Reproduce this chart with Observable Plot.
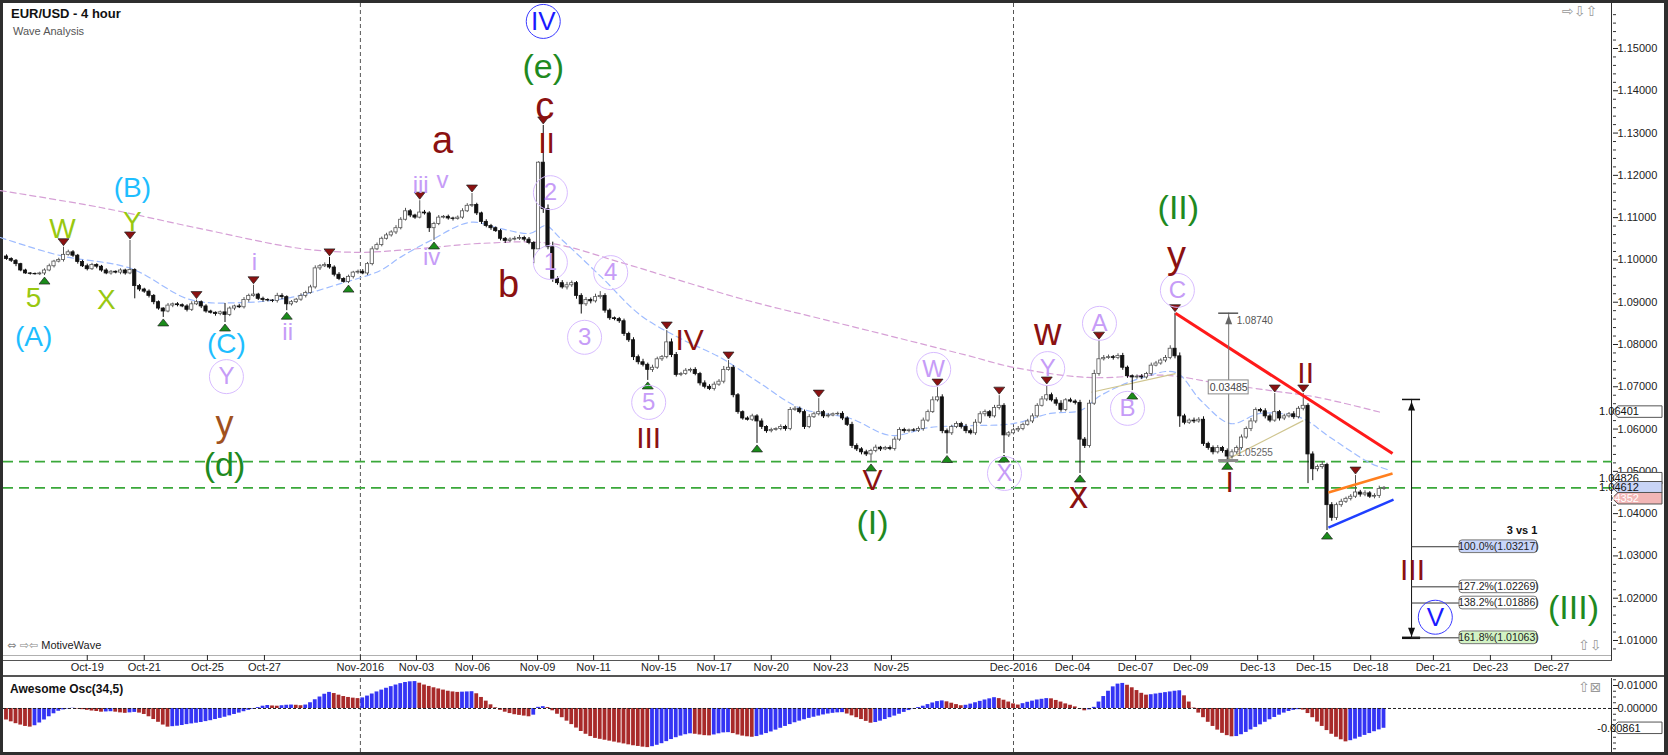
<!DOCTYPE html>
<html><head><meta charset="utf-8">
<script src="https://cdn.jsdelivr.net/npm/d3@7"></script>
<script src="https://cdn.jsdelivr.net/npm/@observablehq/plot@0.6"></script>
<style>
body{margin:0;background:#fff;}
#root{position:relative;width:1668px;height:755px;background:#2e2e2e;overflow:hidden;font-family:"Liberation Sans",Arial,sans-serif;}
.abs{position:absolute;}
</style></head>
<body>
<div id="root">
  <div class="abs" style="left:3px;top:3px;width:1661px;height:749px;background:#fff;"></div>
  <div class="abs" style="left:3px;top:655px;width:1609px;height:1px;background:#b0b0b0;"></div>
  <div class="abs" style="left:3px;top:660px;width:1609px;height:1px;background:#555;"></div>
  <div class="abs" style="left:3px;top:675px;width:1661px;height:2px;background:#555;"></div>
  <div class="abs" style="left:1611px;top:3px;width:1px;height:657px;background:#333;"></div>
  <div class="abs" style="left:1611px;top:678px;width:1px;height:74px;background:#333;"></div>
  <div id="main" class="abs" style="left:0;top:0;"></div>
  <div id="osc" class="abs" style="left:0;top:676px;"></div>
  <div class="abs" style="left:11px;top:6px;font-weight:bold;font-size:13px;color:#111;">EUR/USD - 4 hour</div>
  <div class="abs" style="left:13px;top:25px;font-size:11px;color:#555;">Wave Analysis</div>
  <div class="abs" style="left:7px;top:639px;font-size:11px;color:#222;"><span style="font-family:'DejaVu Sans';color:#888;">⇔ ⇨⇦</span> MotiveWave</div>
  <div class="abs" style="left:10px;top:682px;font-weight:bold;font-size:12px;color:#111;">Awesome Osc(34,5)</div>
  <div class="abs" style="left:1562px;top:3px;font-size:14px;color:#999;font-family:'DejaVu Sans';">⇨⇩⇧</div>
  <div class="abs" style="left:1578px;top:637px;font-size:14px;color:#999;font-family:'DejaVu Sans';">⇧⇩</div>
  <div class="abs" style="left:1578px;top:679px;font-size:14px;color:#999;font-family:'DejaVu Sans';">⇧⊠</div>
</div>
<script>
// ---------- DATA ----------
const firstOpen = 1.1008;
const closes = [
1.1002,1.0998,1.0990,1.0975,1.0968,1.0967,1.0966,1.0968,1.0975,1.0985,
1.0996,1.1000,1.1012,1.1018,1.1010,1.0995,1.0985,1.0978,1.0988,1.0984,
1.0975,1.0968,1.0972,1.0970,1.0975,1.0968,1.0976,1.0938,1.0930,1.0925,
1.0915,1.0900,1.0885,1.0878,1.0892,1.0895,1.0893,1.0890,1.0882,1.0895,
1.0900,1.0890,1.0878,1.0875,1.0872,1.0876,1.0870,1.0885,1.0890,1.0888,
1.0905,1.0915,1.0918,1.0908,1.0905,1.0904,1.0903,1.0915,1.0912,1.0895,
1.0900,1.0906,1.0915,1.0922,1.0935,1.0980,1.0985,1.0988,1.0982,1.0965,
1.0955,1.0948,1.0960,1.0970,1.0972,1.0968,1.0990,1.1025,1.1035,1.1050,
1.1058,1.1065,1.1075,1.1095,1.1115,1.1105,1.1100,1.1112,1.1110,1.1075,
1.1085,1.1100,1.1102,1.1098,1.1097,1.1100,1.1115,1.1128,1.1130,1.1110,
1.1090,1.1080,1.1075,1.1068,1.1050,1.1045,1.1048,1.1050,1.1052,1.1048,
1.1040,1.1025,1.1230,1.1120,1.1030,1.0955,1.0945,1.0935,1.0940,1.0945,
1.0915,1.0895,1.0905,1.0902,1.0912,1.0915,1.0880,1.0862,1.0860,1.0855,
1.0825,1.0810,1.0770,1.0758,1.0752,1.0740,1.0745,1.0765,1.0770,1.0805,
1.0775,1.0728,1.0730,1.0738,1.0740,1.0730,1.0708,1.0700,1.0695,1.0705,
1.0712,1.0740,1.0745,1.0680,1.0640,1.0625,1.0622,1.0630,1.0618,1.0605,
1.0595,1.0598,1.0600,1.0605,1.0600,1.0645,1.0648,1.0640,1.0605,1.0628,
1.0635,1.0640,1.0630,1.0632,1.0635,1.0636,1.0625,1.0610,1.0560,1.0552,
1.0545,1.0540,1.0548,1.0556,1.0552,1.0555,1.0553,1.0575,1.0598,1.0595,
1.0597,1.0596,1.0600,1.0620,1.0640,1.0668,1.0675,1.0595,1.0590,1.0605,
1.0612,1.0605,1.0595,1.0590,1.0615,1.0635,1.0640,1.0630,1.0650,1.0655,
1.0585,1.0590,1.0597,1.0600,1.0610,1.0618,1.0630,1.0655,1.0670,1.0680,
1.0668,1.0660,1.0645,1.0668,1.0665,1.0662,1.0575,1.0560,1.0660,1.0730,
1.0765,1.0768,1.0770,1.0768,1.0773,1.0745,1.0725,1.0722,1.0724,1.0722,
1.0730,1.0750,1.0755,1.0762,1.0768,1.0790,1.0772,1.0630,1.0615,1.0620,
1.0618,1.0622,1.0565,1.0555,1.0545,1.0555,1.0548,1.0535,1.0545,1.0555,
1.0580,1.0600,1.0618,1.0645,1.0642,1.0630,1.0620,1.0640,1.0625,1.0630,
1.0635,1.0628,1.0648,1.0655,1.0540,1.0505,1.0510,1.0515,1.0420,1.0390,
1.0420,1.0428,1.0435,1.0440,1.0450,1.0445,1.0448,1.0440,1.0442,1.0458,1.0461];
// upper / lower wick lengths in pips
const wickUp = [
4,3,3,2,3,2,2,3,4,5, 3,4,18,5,4,3,4,5,4,3, 3,4,3,2,4,3,70,3,4,3, 4,3,3,2,5,3,4,3,4,6,
5,3,4,3,2,3,21,4,3,5, 6,4,22,3,4,3,2,6,5,3, 4,3,5,4,5,6,4,5,18,4, 5,3,4,3,4,5,4,6,5,4,
5,4,6,5,7,4,3,28,5,4, 4,5,3,4,3,4,6,5,27,4, 3,5,4,3,4,3,4,5,6,4, 5,3,2,88,10,12,5,6,7,5,
4,5,6,5,7,10,5,4,3,4, 5,4,6,5,7,4,6,5,4,28, 8,6,4,5,4,5,4,6,5,6, 5,8,17,5,4,3,4,5,4,6,
3,4,3,5,4,6,5,4,5,6, 5,32,4,5,3,4,5,4,6,5, 4,5,4,6,3,4,5,6,5,4, 3,4,5,6,5,8,23,6,5,4,
5,4,6,5,7,6,5,4,6,24, 5,4,5,6,4,5,6,5,7,23, 5,6,7,4,5,4,6,5,8,9, 44,6,5,4,5,6,4,3,4,5,
4,6,5,4,6,7,84,8,5,4, 6,5,7,4,5,6,4,5,6,5, 6,5,7,5,4,6,5,44,4,5, 4,6,5,29,5,6,5,8,4,6,
5,6,4,5,40,5,6,4,5,7,3];
const wickDn = [
3,4,6,3,2,3,2,3,5,3, 4,3,5,3,4,5,3,4,3,5, 4,3,4,3,5,4,3,30,5,4, 5,6,4,14,3,5,4,3,5,4,
3,5,4,3,5,4,18,4,5,3, 4,5,3,4,5,3,4,5,6,15, 4,3,4,5,3,4,5,3,4,5, 4,3,4,5,4,3,5,4,3,4,
3,4,5,4,3,5,4,3,4,10, 29,4,3,4,5,3,4,3,4,5, 6,4,5,3,5,6,4,3,4,5, 4,34,0,10,6,8,5,4,6,5,
8,23,5,6,4,5,6,5,4,5, 6,5,8,6,5,25,6,4,5,4, 6,5,4,3,5,4,6,5,4,5, 4,5,3,6,5,4,3,4,52,6,
5,4,3,4,5,4,3,4,6,4, 3,4,5,4,3,4,5,4,6,5, 6,5,19,4,5,3,4,5,4,5, 4,3,4,5,4,3,4,6,49,5,
4,5,6,4,5,4,6,5,4,5, 43,5,4,5,4,3,5,4,3,5, 4,6,5,4,3,5,80,6,5,4, 5,4,3,5,4,6,5,31,4,5,
4,5,3,4,5,4,6,26,5,4, 5,4,6,5,6,4,5,10,6,5, 5,4,6,5,4,6,5,4,6,5, 4,5,4,5,69,27,6,5,60,8,
6,5,4,5,4,6,5,4,5,6,3];
// Awesome oscillator (x 0.001)
const aoValues = [
-5.0,-5.8,-6.6,-7.2,-7.8,-8.1,-7.5,-6.3,-5.0,-3.6,
-2.3,-1.2,-0.6,-0.2,0.1,-0.2,-0.5,-0.8,-1.1,-1.3,
-1.6,-1.5,-1.4,-1.6,-1.9,-2.1,-1.9,-1.7,-2.0,-2.6,
-3.6,-4.8,-6.0,-7.2,-8.1,-7.9,-7.7,-7.4,-7.0,-6.7,
-6.4,-6.1,-5.7,-5.3,-4.8,-4.3,-3.8,-3.2,-2.6,-2.0,
-1.4,-0.8,-0.3,0.4,1.0,1.3,1.1,1.0,1.2,1.4,
1.5,1.4,1.2,1.5,2.5,3.8,5.0,6.2,7.0,6.5,
5.8,5.2,4.8,4.5,4.3,4.6,5.4,6.3,7.2,8.0,
8.8,9.5,10.2,10.8,11.3,11.6,11.7,11.0,10.2,9.6,
9.0,8.5,8.0,7.5,7.2,7.0,7.1,7.2,7.3,6.4,
4.8,3.2,1.6,0.3,-0.8,-1.6,-2.2,-2.7,-3.0,-3.3,
-3.6,-2.9,0.5,0.8,0.4,-1.0,-2.5,-4.0,-5.5,-7.0,
-8.5,-10.0,-11.2,-12.2,-13.0,-13.4,-13.8,-14.2,-14.6,-15.0,
-15.4,-15.8,-16.2,-16.5,-16.8,-17.0,-16.6,-16.0,-15.3,-14.4,
-13.5,-12.7,-12.0,-11.4,-11.0,-11.2,-11.5,-11.8,-11.9,-11.5,
-11.0,-10.6,-10.5,-10.9,-11.5,-12.0,-12.3,-12.5,-12.2,-11.6,
-10.9,-10.2,-9.4,-8.6,-7.8,-7.0,-6.2,-5.5,-4.9,-4.3,
-3.8,-3.3,-2.8,-2.4,-2.1,-1.9,-1.8,-2.4,-3.2,-4.0,
-4.8,-5.6,-6.4,-6.1,-5.5,-4.8,-4.0,-3.3,-2.5,-1.7,
-0.9,-0.2,0.4,1.0,1.7,2.4,3.0,3.3,2.9,2.3,
1.7,1.2,1.4,1.9,2.5,3.1,3.7,4.2,4.7,4.3,
3.6,2.8,2.0,1.5,2.1,2.7,3.2,3.7,4.0,4.3,
4.2,3.5,2.8,2.0,1.4,0.7,-0.2,-1.0,-0.6,0.5,
2.8,5.2,7.5,9.4,10.6,10.9,10.1,9.0,7.8,6.6,
5.8,6.0,6.3,6.6,6.9,7.2,7.5,7.7,5.5,2.8,
0.2,-2.0,-4.0,-6.0,-7.8,-9.4,-10.8,-11.8,-12.3,-12.2,
-11.4,-10.4,-9.3,-8.2,-7.1,-6.0,-4.9,-3.9,-2.9,-2.0,
-1.3,-0.8,-0.5,-0.7,-2.2,-4.0,-5.9,-7.8,-9.6,-11.2,
-12.5,-13.6,-14.5,-14.0,-13.3,-12.5,-11.7,-10.9,-10.1,-9.3,-8.6];

const tickIdx = [17,29,42.3,54.3,74.5,86.3,98.1,111.8,123.6,137.3,149,161,173.5,186.3,212,224.4,237.7,249.3,263.4,275.2,287.2,300.4,312.4,325.3];
const tickLabels = ["Oct-19","Oct-21","Oct-25","Oct-27","Nov-2016","Nov-03","Nov-06","Nov-09","Nov-11","Nov-15","Nov-17","Nov-20","Nov-23","Nov-25","Dec-2016","Dec-04","Dec-07","Dec-09","Dec-13","Dec-15","Dec-18","Dec-21","Dec-23","Dec-27"];
const monthStarts = [74.5, 212];

// moving averages: [bar index, price]
const slowMA = [[-1.3,1.1164],[19.8,1.1124],[40.8,1.1074],[61.9,1.1027],[74.5,1.1018],[87.2,1.1027],[99.8,1.1039],[114.5,1.1039],[129.3,1.0994],[141.9,1.0951],[156,1.0904],[171.4,1.0861],[188.2,1.0814],[202.3,1.0774],[212,1.0746],[227.6,1.0722],[244.4,1.0727],[254.1,1.0710],[266.1,1.0691],[276,1.0675],[289.5,1.0639]];
const fastMA = [[-1.3,1.1053],[11.4,1.1010],[26.1,1.0980],[38.7,1.0906],[49.3,1.0899],[59.8,1.0911],[70.3,1.0944],[78.7,1.0975],[82.9,1.1006],[89.3,1.1046],[97.7,1.1089],[104,1.1074],[110.3,1.1063],[113.5,1.1081],[116.6,1.1051],[125.1,1.0961],[133.5,1.0869],[141.9,1.0814],[150.3,1.0769],[158.7,1.0708],[167.2,1.0649],[177.7,1.0625],[186.1,1.0585],[194.5,1.0604],[202.9,1.0608],[212,1.0613],[219.8,1.0637],[226.1,1.0644],[230.3,1.0679],[238.7,1.0720],[246.1,1.0734],[251.4,1.0668],[257.7,1.0613],[264,1.0637],[272.4,1.0627],[278.7,1.0580],[287.2,1.0519],[291.4,1.0502]];

const supportLevels = [1.0523, 1.0461];
// trend lines [i1,p1,i2,p2]
const redLine = [[246.1,1.0874,291.8,1.0542]];
const orangeLine = [[278.3,1.0450,291.8,1.0495]];
const blueLine = [[278.3,1.0367,292.0,1.0433]];
const tanLines = [[228.4,1.0687,246.1,1.0731],[256.6,1.0526,273,1.0620]];

// swing markers (bar indices)
const highMarks = [12,26,40,52,68,87,98,113,139,152,171,196,209,219,230,246,267,273,284];
const lowMarks = [8,33,46,59,72,90,135,158,182,198,210,226,237,257,278];

// wave labels [text, bar index, price, group]
const waveLabels = [
 ["(A)",5.7,1.0817,"cyan"],["5",5.7,1.0909,"lime"],["W",11.8,1.1074,"lime"],["(B)",26.5,1.1171,"cyan"],
 ["Y",26.5,1.1089,"lime"],["X",21,1.0904,"lime"],["(C)",46.3,1.0802,"cyan"],["i",52.2,1.0994,"lav"],
 ["ii",59.2,1.0828,"lav"],["y",45.9,1.0611,"brown"],["(d)",45.9,1.0514,"green"],["iii",87.2,1.1176,"lav"],
 ["v",91.8,1.1188,"lav"],["iv",89.5,1.1006,"lav"],["a",91.8,1.1282,"red"],["b",105.7,1.0940,"red"],
 ["c",113.3,1.1362,"red"],["II",113.7,1.1276,"redS"],["(e)",113,1.1457,"green"],["III",135.2,1.0578,"redS"],
 ["IV",143.8,1.0809,"redS"],["V",182.3,1.0478,"redS"],["(I)",182.3,1.0377,"green"],["w",219.2,1.0828,"red"],
 ["x",225.7,1.0441,"red"],["y",246.3,1.1010,"red"],["(II)",246.7,1.1122,"green"],["I",257.5,1.0474,"redS"],
 ["II",273.5,1.0731,"redS"],["III",296,1.0266,"redS"],["(III)",329.9,1.0176,"green"]];
const circledLabels = [
 ["Y",46.3,1.0724,"lav"],["2",114.5,1.1159,"lav"],["1",114.5,1.0994,"lav"],["3",121.7,1.0817,"lav"],
 ["4",127.2,1.0970,"lav"],["5",135.2,1.0663,"lav"],["W",195.2,1.0741,"lav"],["X",210.1,1.0495,"lav"],
 ["Y",219.2,1.0743,"lav"],["A",230.1,1.0850,"lav"],["B",236,1.0649,"lav"],["C",246.5,1.0928,"lav"],
 ["IV",113,1.1564,"blue"],["V",300.8,1.0155,"blue"]];

// projection / fibonacci
const projTop = 1.0670, projBottom = 1.01063, projIdx = 295.8;
const fibLevels = [1.03217, 1.02269, 1.01886, 1.01063];
const fibTexts = ["100.0%(1.03217)","127.2%(1.02269)","138.2%(1.01886)","161.8%(1.01063)"];
const fibFills = ["#c9d6fb","#ffffff","#ffffff","#d3f3c4"];
// measure tool
const measLow = 1.05255, measHigh = 1.08740, measIdx = 257.3, measDiff = "0.03485";
// right axis value tags
const tagValues = [1.06401, 1.04826, 1.04612, 1.04352];
const tagFills = ["#ffffff","#ffffff","#c8d4f6","#f2b6b6"];
const tagText = ["#111","#111","#111","#ffffff"];
const aoLast = -0.00861;

// ---------- BUILD ----------
const candles = closes.map((c, i) => {
  const o = i === 0 ? firstOpen : closes[i - 1];
  return {i, o, c, hi: Math.max(o, c) + wickUp[i] * 1e-4, lo: Math.min(o, c) - wickDn[i] * 1e-4};
});
const labelMap = new Map(tickIdx.map((d, k) => [d, tickLabels[k]]));
const styles = {
  cyan: {fill: "#1ebeff", size: 28}, lime: {fill: "#99c811", size: 28}, lav: {fill: "#c69cf7", size: 24},
  brown: {fill: "#a0521e", size: 36}, green: {fill: "#1f8a1f", size: 34}, red: {fill: "#8b1111", size: 38},
  redS: {fill: "#8b1111", size: 30}, blue: {fill: "#1a1aff", size: 26}
};
const downTri = {draw(ctx) { ctx.moveTo(-5.5, -3.5); ctx.lineTo(5.5, -3.5); ctx.lineTo(0, 3.5); ctx.closePath(); }};
const upTri = {draw(ctx) { ctx.moveTo(-5.5, 3.5); ctx.lineTo(5.5, 3.5); ctx.lineTo(0, -3.5); ctx.closePath(); }};
const arrowUp = {draw(ctx) { ctx.moveTo(0, -5); ctx.lineTo(3.5, 4); ctx.lineTo(-3.5, 4); ctx.closePath(); }};
const arrowDn = {draw(ctx) { ctx.moveTo(0, 5); ctx.lineTo(3.5, -4); ctx.lineTo(-3.5, -4); ctx.closePath(); }};

const xDomain = [-0.6316, 338.105];
const majors = d3.range(101, 116).map(d => d / 100);
const minors = d3.range(504, 581).map(d => d / 500).filter(d => Math.abs(d * 100 - Math.round(d * 100)) > 1e-6);
const fibBoxH = 0.0015;
const fibX1 = 305.9, fibX2 = 322.3;

const main = Plot.plot({
  width: 1668, height: 676, marginTop: 3, marginBottom: 21, marginLeft: 3, marginRight: 56,
  x: {domain: xDomain, axis: null, label: null},
  y: {domain: [1.00645, 1.16064], axis: null, label: null},
  color: {type: "identity"},
  style: {background: "transparent", fontFamily: "Liberation Sans, Arial, sans-serif", fontSize: "11px", color: "#222"},
  marks: [
    Plot.ruleX(monthStarts, {stroke: "#555", strokeDasharray: "4,3"}),
    Plot.ruleY(supportLevels, {stroke: "#3aa83a", strokeWidth: 1.6, strokeDasharray: "10,6"}),
    Plot.line(slowMA, {x: d => d[0], y: d => d[1], curve: "catmull-rom", stroke: "#d6a0d6", strokeWidth: 1.2, strokeDasharray: "6,4"}),
    Plot.line(fastMA, {x: d => d[0], y: d => d[1], curve: "catmull-rom", stroke: "#9fbcff", strokeWidth: 1.2, strokeDasharray: "6,4"}),
    Plot.link(tanLines, {x1: d => d[0], y1: d => d[1], x2: d => d[2], y2: d => d[3], stroke: "#cfc58f", strokeWidth: 1.2}),
    Plot.ruleX(candles, {x: "i", y1: "lo", y2: "hi", stroke: d => d.c >= d.o ? "#555" : "#111", strokeWidth: 1}),
    Plot.rect(candles, {x1: d => d.i - 0.34, x2: d => d.i + 0.34, y1: "o", y2: "c",
      fill: d => d.c >= d.o ? "#ffffff" : "#111111", stroke: d => d.c >= d.o ? "#555" : "#111", strokeWidth: 0.8}),
    Plot.link(redLine, {x1: d => d[0], y1: d => d[1], x2: d => d[2], y2: d => d[3], stroke: "#ff1a1a", strokeWidth: 3}),
    Plot.link(orangeLine, {x1: d => d[0], y1: d => d[1], x2: d => d[2], y2: d => d[3], stroke: "#ff7f1e", strokeWidth: 2.5}),
    Plot.link(blueLine, {x1: d => d[0], y1: d => d[1], x2: d => d[2], y2: d => d[3], stroke: "#1f3fff", strokeWidth: 2.5}),
    // measure tool
    Plot.ruleX([measIdx], {y1: measLow, y2: measHigh, stroke: "#777"}),
    Plot.ruleY([measHigh], {x1: measIdx - 2.1, x2: measIdx + 2.1, stroke: "#555", strokeWidth: 1.5}),
    Plot.ruleY([measLow], {x1: measIdx - 2.1, x2: measIdx + 2.1, stroke: "#888", strokeWidth: 3}),
    Plot.dot([measHigh], {x: measIdx, y: d => d, symbol: arrowUp, fill: "#666", stroke: "none", dy: 7}),
    Plot.text([measHigh], {x: measIdx + 1.7, y: d => d, dy: 8, text: d => d.toFixed(5), textAnchor: "start", fontSize: 10, fill: "#555"}),
    Plot.text([measLow], {x: measIdx + 1.7, y: d => d, dy: -8, text: d => d.toFixed(5), textAnchor: "start", fontSize: 10, fill: "#666"}),
    Plot.rect([measDiff], {x1: measIdx - 4.2, x2: measIdx + 4.2, y1: 1.0715, y2: 1.0682, fill: "#fff", stroke: "#888"}),
    Plot.text([measDiff], {x: measIdx, y: 1.06985, text: d => d, fontSize: 10.5, fill: "#444"}),
    // projection arrow and fib levels
    Plot.ruleX([projIdx], {y1: projBottom, y2: projTop, stroke: "#111"}),
    Plot.ruleY([projTop], {x1: projIdx - 1.9, x2: projIdx + 1.9, stroke: "#111", strokeWidth: 1.5}),
    Plot.ruleY([projBottom], {x1: projIdx - 1.9, x2: projIdx + 1.9, stroke: "#111", strokeWidth: 2.5}),
    Plot.dot([projTop], {x: projIdx, y: d => d, symbol: arrowUp, fill: "#111", stroke: "none", dy: 7}),
    Plot.dot([projBottom], {x: projIdx, y: d => d, symbol: arrowDn, fill: "#111", stroke: "none", dy: -6}),
    Plot.ruleY(fibLevels, {x1: projIdx, x2: fibX1, stroke: "#333"}),
    Plot.rect(fibLevels, {x1: fibX1, x2: fibX2, y1: d => d - fibBoxH, y2: d => d + fibBoxH, rx: 3,
      fill: (d, k) => fibFills[k], stroke: "#777"}),
    Plot.text(fibLevels, {x: (fibX1 + fibX2) / 2, y: d => d, text: (d, k) => fibTexts[k], fontSize: 10.5, fill: "#222"}),
    Plot.text(["3 vs 1"], {x: fibX2, y: 1.0361, text: d => d, textAnchor: "end", fontWeight: "bold", fontSize: 11, fill: "#111"}),
    // swing markers
    Plot.dot(highMarks, {x: d => d, y: d => candles[d].hi, symbol: downTri, fill: "#8b1111", stroke: "#222", strokeWidth: 0.7, dy: -5}),
    Plot.dot(lowMarks, {x: d => d, y: d => candles[d].lo, symbol: upTri, fill: "#1a8c1a", stroke: "#222", strokeWidth: 0.7, dy: 5}),
    // wave labels
    Plot.dot(circledLabels, {x: d => d[1], y: d => d[2], r: 17, fill: "none",
      stroke: d => d[3] === "blue" ? "#3a3aff" : "#d8bcff", strokeWidth: 1}),
    Plot.text(circledLabels, {x: d => d[1], y: d => d[2], text: d => d[0], fill: d => styles[d[3]].fill,
      fontSize: d => styles[d[3]].size, fontFamily: "Liberation Sans, Arial, sans-serif"}),
    Plot.text(waveLabels, {x: d => d[1], y: d => d[2], text: d => d[0], fill: d => styles[d[3]].fill,
      fontSize: d => styles[d[3]].size, fontFamily: "Liberation Sans, Arial, sans-serif"}),
    // axes
    Plot.axisY({anchor: "right", ticks: minors, tickSize: 3, tickFormat: () => "", stroke: "#333", label: null}),
    Plot.axisY({anchor: "right", ticks: majors, tickSize: 5, tickPadding: 0, tickFormat: d => d.toFixed(5), fill: "#222", label: null}),
    Plot.axisX({anchor: "bottom", ticks: tickIdx, tickSize: 5, tickPadding: 3, tickFormat: d => labelMap.get(d), fill: "#222", label: null})
  ]
});
document.getElementById("main").appendChild(main);

// value tags on the price axis
function addTag(svg, yPx, text, fill, color) {
  const g = d3.select(svg).append("g");
  const x0 = 1612, w = 50, h = 11.5;
  g.append("path").attr("d", `M${x0},${yPx}L${x0 + 6},${yPx - h / 2}L${x0 + w},${yPx - h / 2}L${x0 + w},${yPx + h / 2}L${x0 + 6},${yPx + h / 2}Z`)
    .attr("fill", fill).attr("stroke", "#555").attr("stroke-width", 1);
  g.append("text").attr("x", x0 + 7).attr("y", yPx).attr("dy", "0.35em").attr("font-size", 11)
    .attr("font-family", "Liberation Sans, Arial, sans-serif").attr("fill", color).text(text);
}
const ys = main.scale("y");
tagValues.forEach((v, k) => addTag(main, ys.apply(v), v.toFixed(5), tagFills[k], tagText[k]));

// oscillator
const ao = aoValues.map((v, i) => ({i, v: v / 1000, up: i > 0 ? v >= aoValues[i - 1] : false}));
const aoMinor = d3.range(-7, 6).map(d => d * 0.0025).filter(d => Math.abs(d) > 1e-9 && Math.abs(d - 0.01) > 1e-9);
const osc = Plot.plot({
  width: 1668, height: 79, marginTop: 2, marginBottom: 3, marginLeft: 3, marginRight: 56,
  x: {domain: xDomain, axis: null, label: null},
  y: {domain: [-0.01913, 0.01304], axis: null, label: null},
  color: {type: "identity"},
  style: {background: "transparent", fontFamily: "Liberation Sans, Arial, sans-serif", fontSize: "11px", color: "#222"},
  marks: [
    Plot.ruleX(monthStarts, {stroke: "#555", strokeDasharray: "4,3"}),
    Plot.rect(ao, {x1: d => d.i - 0.4, x2: d => d.i + 0.4, y1: 0, y2: "v", fill: d => d.up ? "#3434f4" : "#a82a2a"}),
    Plot.ruleY([0], {stroke: "#222", strokeDasharray: "3,2"}),
    Plot.axisY({anchor: "right", ticks: aoMinor, tickSize: 3, tickFormat: () => "", stroke: "#333", label: null}),
    Plot.axisY({anchor: "right", ticks: [0.01, 0], tickSize: 5, tickPadding: 0, tickFormat: d => d.toFixed(5), fill: "#222", label: null})
  ]
});
document.getElementById("osc").appendChild(osc);
addTag(osc, osc.scale("y").apply(aoLast), aoLast.toFixed(5), "#ffffff", "#111");
</script>
</body></html>
